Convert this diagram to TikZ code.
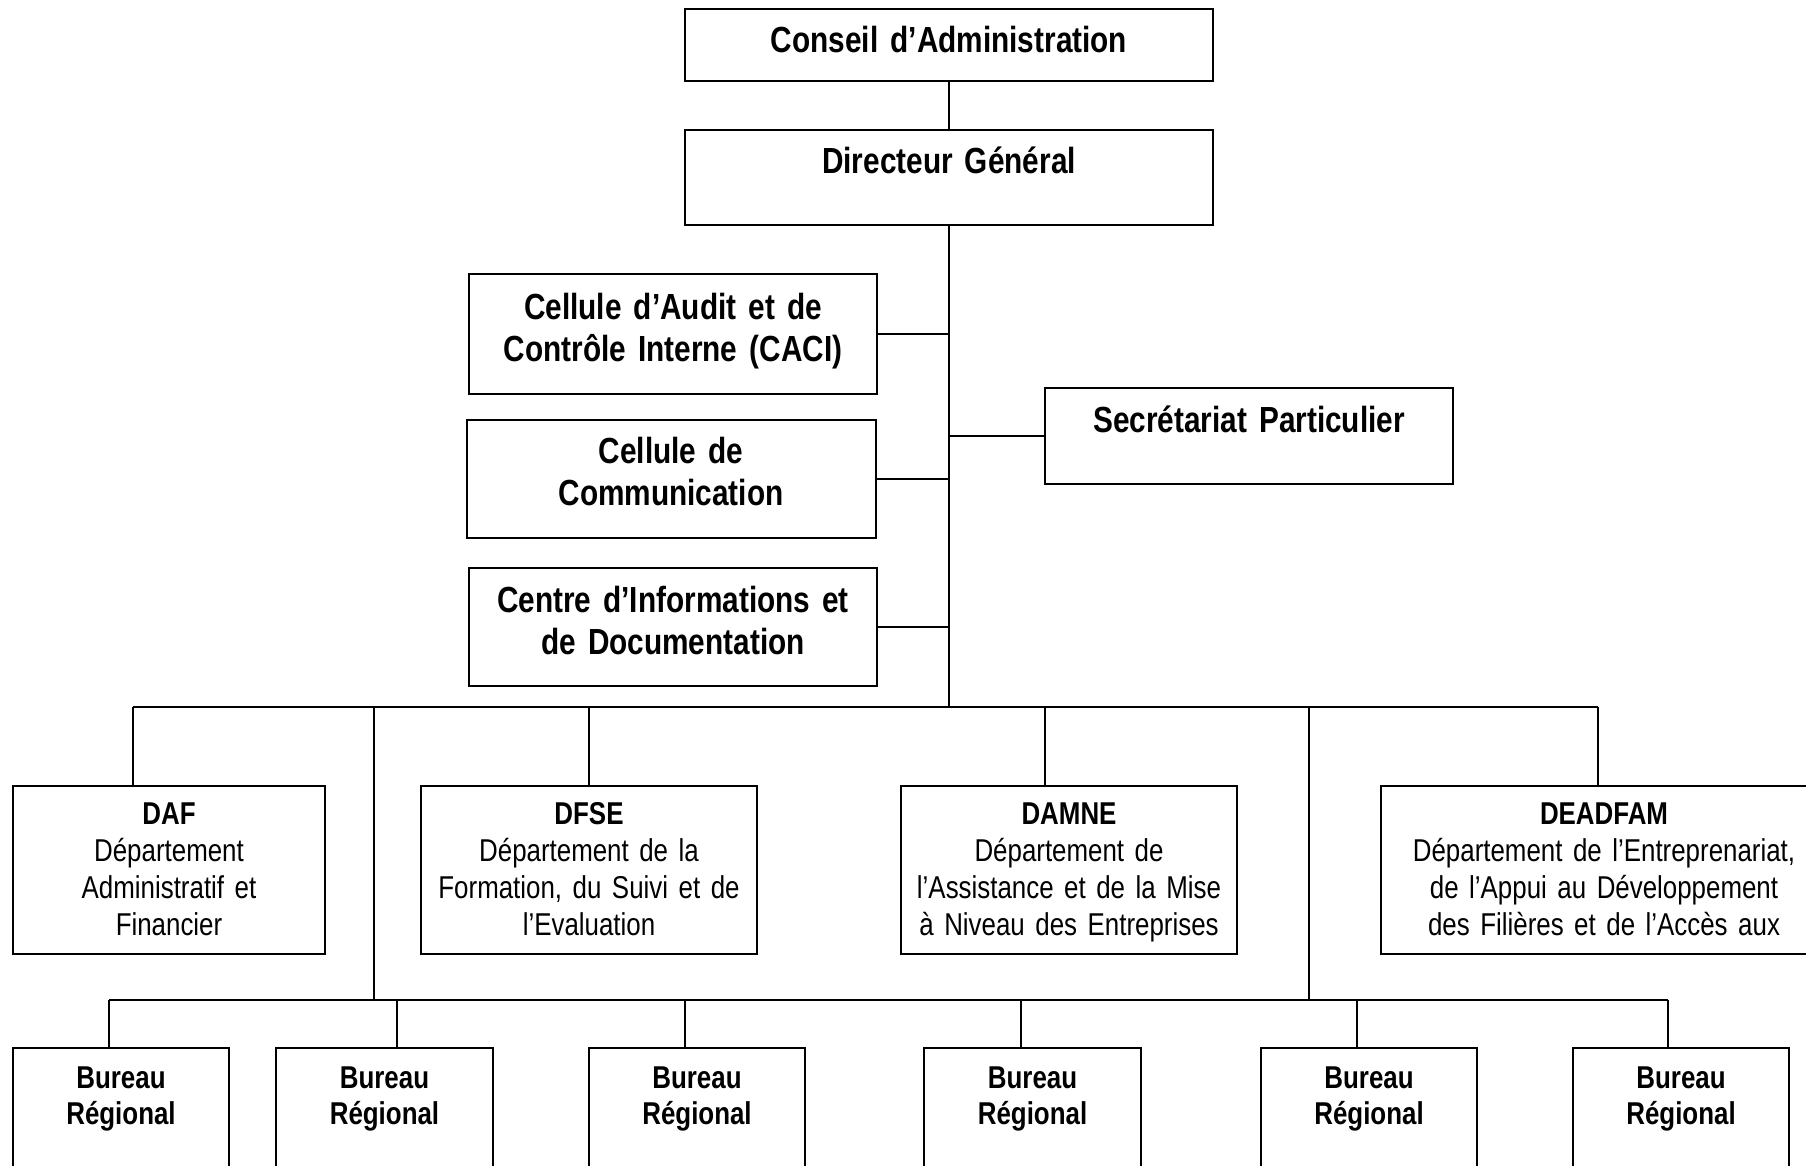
\documentclass[tikz,border=0pt]{standalone}
\usepackage{fontspec}
\setmainfont{Liberation Sans}[FakeStretch=0.82,WordSpace=0.82]
\usetikzlibrary{fit}
\tikzset{
  box/.style={draw, line width=0.9pt, inner sep=0pt},
  conn/.style={line width=0.75pt},
  ttl/.style={font=\fontsize{13.8}{16}\selectfont\bfseries, align=center, anchor=base, inner sep=0pt, text width=150pt},
  bdy/.style={font=\fontsize{12}{14.1}\selectfont, align=center, anchor=base, inner sep=0pt, text width=165pt},
  bur/.style={font=\fontsize{12}{13.7}\selectfont\bfseries, align=center, anchor=base, inner sep=0pt, text width=80pt}
}
\begin{document}
\begin{tikzpicture}[x=0.38pt,y=-0.38pt]
\useasboundingbox (0,0) rectangle (1806,1165);
\clip (0,0) rectangle (1806,1165);
% boxes
\node[box, fit={(685,9) (1213,81)}] (ca) {};
\node[box, fit={(685,130) (1213,225)}] (dg) {};
\node[box, fit={(469,274) (877,394)}] (caci) {};
\node[box, fit={(467,420) (876,538)}] (com) {};
\node[box, fit={(469,568) (877,686)}] (cid) {};
\node[box, fit={(1045,388) (1453,484)}] (sp) {};
\node[box, fit={(13,786) (325,954)}] (daf) {};
\node[box, fit={(421,786) (757,954)}] (dfse) {};
\node[box, fit={(901,786) (1237,954)}] (damne) {};
\node[box, fit={(1381,786) (1827,954)}] (deadfam) {};
\node[box, fit={(13,1048) (229,1220)}] (b1) {};
\node[box, fit={(276,1048) (493,1220)}] (b2) {};
\node[box, fit={(589,1048) (805,1220)}] (b3) {};
\node[box, fit={(924,1048) (1141,1220)}] (b4) {};
\node[box, fit={(1261,1048) (1477,1220)}] (b5) {};
\node[box, fit={(1573,1048) (1789,1220)}] (b6) {};
% texts
\node[ttl, text width=190pt] (ca-t) at (949,53) {Conseil d’Administration};
\node[ttl, text width=190pt] (dg-t) at (949,174) {Directeur Général};
\node[ttl] (caci-t) at (673,319) {Cellule d’Audit et de\\Contrôle Interne (CACI)};
\node[ttl] (com-t) at (671,463) {Cellule de\\Communication};
\node[ttl] (cid-t) at (673,612) {Centre d’Informations et\\de Documentation};
\node[ttl] (sp-t) at (1249,432) {Secrétariat Particulier};
\node[bdy, text width=115pt] (daf-t) at (169,824) {\textbf{DAF}\\Département\\Administratif et\\Financier};
\node[bdy, text width=125pt] (dfse-t) at (589,824) {\textbf{DFSE}\\Département de la\\Formation, du Suivi et de\\l’Evaluation};
\node[bdy, text width=125pt] (damne-t) at (1069,824) {\textbf{DAMNE}\\Département de\\l’Assistance et de la Mise\\à Niveau des Entreprises};
\node[bdy] (deadfam-t) at (1604,824) {\textbf{DEADFAM}\\Département de l’Entreprenariat,\\de l’Appui au Développement\\des Filières et de l’Accès aux};
\node[bur] (b1-t) at (121,1088) {Bureau\\Régional};
\node[bur] (b2-t) at (384.5,1088) {Bureau\\Régional};
\node[bur] (b3-t) at (697,1088) {Bureau\\Régional};
\node[bur] (b4-t) at (1032.5,1088) {Bureau\\Régional};
\node[bur] (b5-t) at (1369,1088) {Bureau\\Régional};
\node[bur] (b6-t) at (1681,1088) {Bureau\\Régional};
% connectors
\coordinate (bus) at (949,707);
\coordinate (dL) at (133,707);
\coordinate (dA) at (374,707);
\coordinate (dB) at (589,707);
\coordinate (dC) at (1045,707);
\coordinate (dD) at (1309,707);
\coordinate (dR) at (1598,707);
\coordinate (rA) at (374,1000);
\coordinate (rD) at (1309,1000);
\coordinate (r1) at (109,1000);
\coordinate (r2) at (397,1000);
\coordinate (r3) at (685,1000);
\coordinate (r4) at (1021,1000);
\coordinate (r5) at (1357,1000);
\coordinate (r6) at (1668,1000);
\draw[conn] (ca) -- (dg);
\draw[conn] (dg.south) -- (bus);
\draw[conn] (caci.east) -- (caci.east -| bus);
\draw[conn] (com.east) -- (com.east -| bus);
\draw[conn] (cid.east) -- (cid.east -| bus);
\draw[conn] (sp.west) -- (sp.west -| bus);
\draw[conn] (dL) -- (dR);
\draw[conn] (dL) -- (dL |- daf.north);
\draw[conn] (dB) -- (dB |- dfse.north);
\draw[conn] (dC) -- (dC |- damne.north);
\draw[conn] (dR) -- (dR |- deadfam.north);
\draw[conn] (dA) -- (rA);
\draw[conn] (dD) -- (rD);
\draw[conn] (r1) -- (r6);
\draw[conn] (r1) -- (r1 |- b1.north);
\draw[conn] (r2) -- (r2 |- b2.north);
\draw[conn] (r3) -- (r3 |- b3.north);
\draw[conn] (r4) -- (r4 |- b4.north);
\draw[conn] (r5) -- (r5 |- b5.north);
\draw[conn] (r6) -- (r6 |- b6.north);
\end{tikzpicture}
\end{document}
